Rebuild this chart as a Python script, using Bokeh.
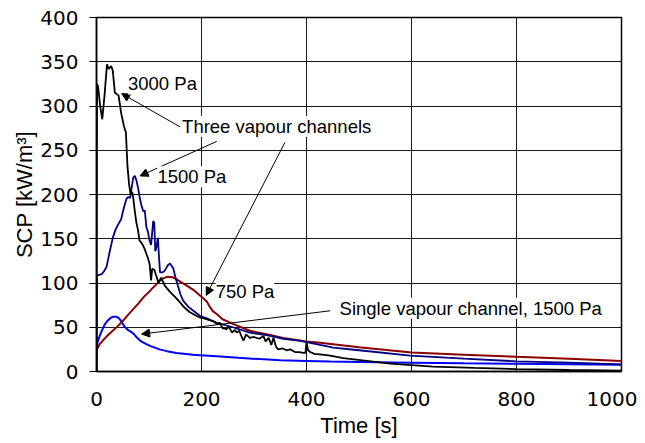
from bokeh.plotting import figure
from bokeh.models import Arrow, NormalHead, Label, FixedTicker, Range1d, Title
from bokeh.embed import file_html
from bokeh.resources import INLINE

# ---------------- data ----------------
x_ticks = [0, 200, 400, 600, 800, 1000]
y_ticks = [0, 50, 100, 150, 200, 250, 300, 350, 400]

t_3000 = [0, 1, 3, 7, 11, 15, 20, 23, 28, 31, 35, 42, 47, 52, 56, 59, 62, 65, 68, 70,
          73, 76, 79, 82, 86, 89, 92, 95, 98, 101, 104, 106, 110, 114, 118, 123, 130,
          140, 150, 159, 168, 178, 190, 197, 205, 215, 222, 229, 235, 240, 248, 252,
          258, 264, 267, 272, 276, 280, 285, 292, 300, 310, 318, 322, 328, 333, 337,
          342, 346, 355, 362, 369, 378, 386, 394, 398, 400, 403, 407, 415, 430, 445,
          470, 515, 560, 641, 720, 800, 900, 1000]
v_3000 = [0, 325, 322, 300, 285, 310, 347, 342, 345, 340, 315, 312, 292, 278, 270, 232,
          212, 200, 203, 196, 181, 168, 160, 148, 145, 142, 138, 133, 128, 122, 103, 116,
          115, 108, 100, 106, 97, 90, 84, 78, 72, 67, 63, 61, 60, 58, 57, 54, 55, 49, 48,
          51, 44, 47, 44, 46, 40, 35, 42, 38, 39, 37, 40, 34, 38, 30, 38, 28, 25, 26, 24,
          25, 22, 22, 21, 21, 33, 24, 22, 20, 19, 18, 15, 12, 9, 5.6, 4, 2.7, 1.7, 1]

t_1500 = [0, 1, 3, 10, 14, 19, 25, 31, 36, 41, 47, 50, 54, 57, 60, 64, 67, 70, 73, 76,
          79, 82, 85, 89, 92, 95, 98, 101, 104, 108, 110, 112, 114, 117, 119, 121, 126,
          130, 136, 140, 146, 151, 156, 160, 165, 175, 184, 197, 210, 229, 260, 292,
          324, 356, 388, 426, 451, 500, 597, 700, 800, 900, 1000]
v_1500 = [0, 109, 109, 110, 113, 118, 135, 151, 160, 166, 172, 180, 189, 195, 197, 196,
          208, 219, 221, 216, 208, 198, 189, 181, 182, 163, 158, 148, 143, 170, 168, 136,
          140, 151, 130, 112, 112, 114, 120, 122, 117, 105, 95, 87, 80, 73, 69, 63, 60,
          55, 50, 44, 41, 37, 34.7, 30, 27, 24, 18, 14.5, 11.5, 10, 8]

t_750 = [0, 1, 5, 12, 20, 31, 40, 50, 60, 70, 80, 89, 100, 108, 115, 120, 128, 136, 145,
         152, 161, 172, 185, 197, 205, 210, 216, 222, 229, 240, 261, 292, 324, 356, 400,
         426, 500, 600, 700, 800, 900, 1000]
v_750 = [21.5, 25, 30, 35, 40, 46, 51, 57, 64, 70.5, 77, 83.6, 90, 95, 99, 102.5, 105.5,
         107, 106.5, 104.4, 101, 97, 92, 86, 82, 79, 73, 68, 65, 59, 53.6, 46, 42, 38,
         34, 32.5, 27.5, 21.5, 19, 16.6, 14.3, 12]

t_single = [0, 0.5, 2, 6, 10, 16, 22, 28, 33, 38, 43, 47, 53, 60, 70, 76, 85, 95, 102,
            120, 134, 152, 184, 197, 229, 270, 311, 350, 400, 445, 500, 600, 700, 800,
            900, 1000]
v_single = [0, 27, 33, 40, 46, 53.6, 58, 61, 62, 62, 60, 57, 51, 47, 43, 39, 34, 31, 29,
            25, 23, 21, 19, 18.5, 17.2, 15.5, 14, 12.8, 12, 11.3, 10.8, 10, 9.3, 8.8,
            8.2, 7.6]

labels = ["3000 Pa", "Three vapour channels", "1500 Pa", "750 Pa",
          "Single vapour channel, 1500 Pa"]
x_label = "Time [s]"
y_label = "SCP [kW/m³]"

# ---------------- annotation placement (data units) ----------------
label_pos = [(60, 325), (163, 277), (116, 220), (227, 90), (463, 71.6)]
arrow_pos = [  # (x_start, y_start, x_end, y_end)
    (159, 276.5, 48, 314),
    (229, 260, 83, 221),
    (359, 259, 209, 86),
    (445, 68.6, 86, 42.3),
]

TEXT_FONT = "Liberation Sans"
TICK_FONT = "DejaVu Sans"

p = figure(width=637, height=442, x_range=Range1d(0, 1000), y_range=Range1d(0, 400),
           output_backend="svg", toolbar_location=None,
           min_border_left=96, min_border_right=16, min_border_top=17,
           min_border_bottom=71)

p.background_fill_color = "white"
p.border_fill_color = "white"
p.outline_line_color = "black"
p.outline_line_width = 1.5
p.outline_line_alpha = 1

for ax in (p.xaxis[0], p.yaxis[0]):
    ax.axis_line_color = "black"
    ax.axis_line_width = 1.5
    ax.major_tick_line_color = "black"
    ax.major_tick_in = 0
    ax.minor_tick_out = 0
    ax.minor_tick_in = 0
    ax.major_label_text_font = TICK_FONT
    ax.major_label_text_font_size = "20px"
    ax.major_label_text_color = "black"
    ax.axis_label_text_font = TEXT_FONT
    ax.axis_label_text_font_size = "22px"
    ax.axis_label_text_font_style = "normal"
    ax.axis_label_text_color = "black"

p.xaxis.major_tick_out = 0
p.yaxis.major_tick_out = 7
p.xaxis.ticker = FixedTicker(ticks=x_ticks)
p.yaxis.ticker = FixedTicker(ticks=y_ticks)
p.xaxis.axis_label = x_label
p.xaxis.major_label_standoff = 20
p.yaxis.major_label_standoff = 11
p.xaxis.axis_label_standoff = 4

# y-axis title as a side title so it can sit slightly above centre, as in the reference
p.add_layout(Title(text=y_label, align="center", offset=13, standoff=2,
                   text_font=TEXT_FONT, text_font_size="22px",
                   text_font_style="normal", text_color="black"), "left")

p.xgrid.ticker = FixedTicker(ticks=x_ticks)
p.ygrid.ticker = FixedTicker(ticks=y_ticks)
for g in (p.xgrid[0], p.ygrid[0]):
    g.grid_line_color = "#1a1a1a"
    g.grid_line_width = 1
    g.grid_line_alpha = 1

p.line(t_single, v_single, line_color="#0000ff", line_width=2)
p.line(t_750, v_750, line_color="#8b0000", line_width=2)
p.line(t_1500, v_1500, line_color="#000080", line_width=1.8)
p.line(t_3000, v_3000, line_color="black", line_width=1.8)

for (xs, ys, xe, ye) in arrow_pos:
    p.add_layout(Arrow(end=NormalHead(size=8, fill_color="black", line_color="black",
                                      line_width=1),
                       x_start=xs, y_start=ys, x_end=xe, y_end=ye,
                       line_color="black", line_width=1))

for txt, (lx, ly) in zip(labels, label_pos):
    p.add_layout(Label(x=lx, y=ly, text=txt, text_font=TEXT_FONT, text_font_size="18.5px",
                       text_baseline="middle", text_align="left", text_color="black",
                       background_fill_color="white", background_fill_alpha=1))

open("out.html", "w").write(file_html(p, INLINE))
